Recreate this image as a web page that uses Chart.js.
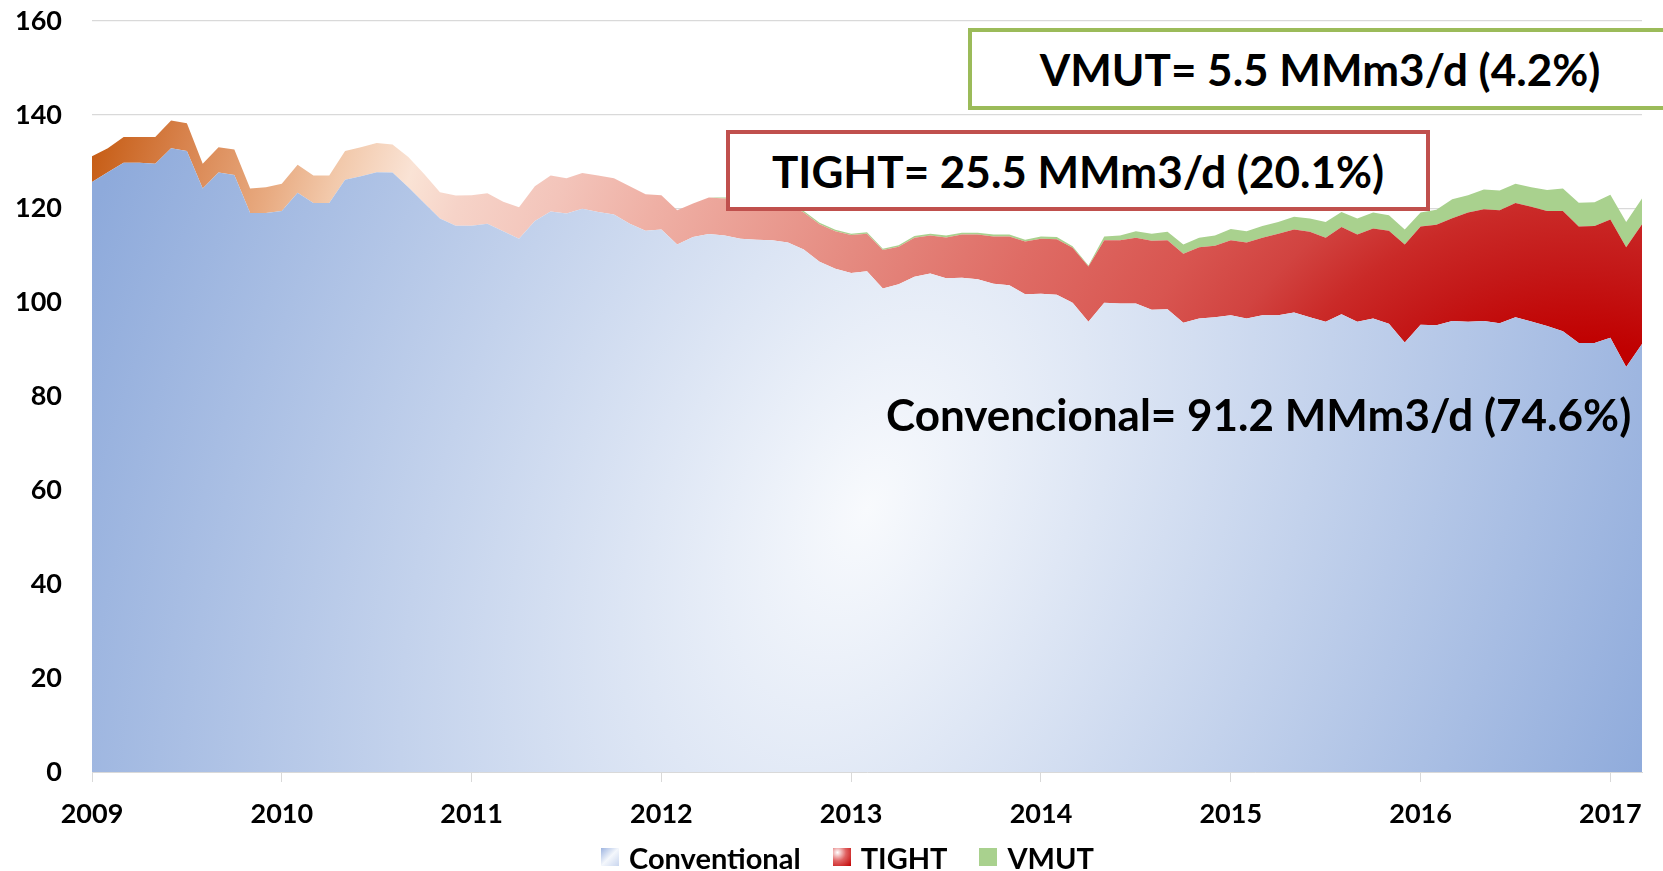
<!DOCTYPE html>
<html>
<head>
<meta charset="utf-8">
<script src="https://cdn.jsdelivr.net/npm/chart.js@4.4.1/dist/chart.umd.min.js"></script>
<style>
    body { margin: 0; background: #fff; }
    #wrap { position: relative; width: 1663px; height: 871px; overflow: hidden; }
    .note { position: absolute; font: bold 44px Lato, sans-serif; color: #000; white-space: nowrap; line-height: 1; }
    .boxed { background: #fff; box-sizing: border-box; display: flex; align-items: center; justify-content: center; }
    #vmutBox { left: 968px; top: 28px; width: 704px; height: 82px; border: 4.5px solid #9bbb59; }
    #tightBox { left: 726px; top: 130px; width: 704px; height: 81px; border: 4.5px solid #c0504d; }
    #convNote { left: 886px; top: 392px; }
    #legend { position: absolute; left: 601px; top: 842px; height: 30px; display: flex; align-items: center;
              font: bold 29px Lato, sans-serif; color: #000; white-space: nowrap; }
    #legend .item { display: flex; align-items: center; margin-right: 32px; }
    #legend .icon { width: 18px; height: 18px; margin-right: 10px; }
</style>
</head>
<body>
<div id="wrap">
    <canvas id="gasChart"></canvas>
    <div class="note boxed" id="vmutBox">VMUT= 5.5 MMm3/d (4.2%)</div>
    <div class="note boxed" id="tightBox">TIGHT= 25.5 MMm3/d (20.1%)</div>
    <div class="note" id="convNote">Convencional= 91.2 MMm3/d (74.6%)</div>
    <div id="legend"></div>
</div>
<script>
// -------------------------------------------------------------------
// data (MMm3/d, monthly, 2009-01 .. 2017-03)
// -------------------------------------------------------------------
const years = ['2009', '2010', '2011', '2012', '2013', '2014', '2015', '2016', '2017'];
const seriesNames = ['Conventional', 'TIGHT', 'VMUT'];

const conventional = [
    125.7, 127.8, 129.8, 129.8, 129.6, 132.9, 132.3, 124.3, 127.7, 127.2, 119.1, 119.1,
    119.5, 123.4, 121.2, 121.2, 126.2, 126.9, 127.8, 127.7, 124.6, 121.2, 117.9, 116.4,
    116.4, 116.8, 115.2, 113.6, 117.4, 119.4, 119.0, 120.0, 119.3, 118.8, 116.8, 115.3,
    115.6, 112.4, 114.0, 114.6, 114.3, 113.6, 113.4, 113.3, 112.8, 111.3, 108.7, 107.2,
    106.3, 106.7, 103.0, 103.9, 105.5, 106.2, 105.2, 105.3, 105.0, 104.0, 103.7, 101.8,
    101.9, 101.7, 100.0, 95.9, 100.0, 99.8, 99.8, 98.5, 98.6, 95.7, 96.6, 96.9,
    97.3, 96.6, 97.3, 97.3, 97.9, 96.9, 95.9, 97.5, 95.9, 96.6, 95.5, 91.5,
    95.3, 95.2, 96.1, 95.9, 96.1, 95.6, 96.9, 96.0, 95.0, 93.9, 91.4, 91.4,
    92.5, 86.3, 91.2
];

const tight = [
    5.5, 5.1, 5.5, 5.5, 5.7, 5.9, 5.9, 5.3, 5.4, 5.4, 5.2, 5.5,
    5.8, 6.0, 5.9, 5.9, 6.1, 6.2, 6.2, 6.0, 6.4, 6.2, 5.6, 6.4,
    6.5, 6.5, 6.3, 6.7, 7.4, 7.7, 7.5, 7.6, 7.8, 7.7, 8.0, 7.8,
    7.3, 7.3, 7.1, 7.8, 7.9, 8.5, 8.6, 8.5, 8.3, 7.9, 8.0, 8.0,
    8.1, 8.0, 8.2, 8.0, 8.3, 8.1, 8.7, 9.2, 9.5, 10.1, 10.4, 11.2,
    11.7, 11.8, 11.7, 11.8, 13.3, 13.5, 14.0, 14.7, 14.7, 14.7, 15.2, 15.2,
    16.0, 16.2, 16.5, 17.4, 17.7, 18.2, 17.9, 18.6, 18.6, 19.2, 19.8, 20.9,
    20.9, 21.4, 21.9, 23.3, 23.8, 24.1, 24.3, 24.4, 24.5, 25.6, 24.8, 24.9,
    25.2, 25.5, 25.5
];

const vmut = [
    0, 0, 0, 0, 0, 0, 0, 0, 0, 0, 0, 0,
    0, 0, 0, 0, 0, 0, 0, 0, 0, 0, 0, 0,
    0, 0, 0, 0, 0, 0, 0, 0, 0, 0, 0, 0,
    0, 0, 0, 0, 0.2, 0.2, 0.2, 0.2, 0.2, 0.3, 0.3, 0.3,
    0.3, 0.3, 0.3, 0.3, 0.4, 0.4, 0.4, 0.4, 0.4, 0.4, 0.4, 0.4,
    0.5, 0.5, 0.3, 0.2, 0.8, 1.0, 1.4, 1.5, 1.8, 2.0, 2.0, 2.2,
    2.4, 2.4, 2.5, 2.5, 2.7, 2.8, 3.4, 3.2, 3.4, 3.4, 3.3, 3.2,
    3.0, 3.2, 4.0, 3.7, 4.2, 4.2, 4.1, 4.2, 4.5, 4.8, 5.1, 5.1,
    5.3, 5.4, 5.5
];

// month categories; only January gets a year tick label
const months = [];
years.forEach(y => {
    for (let m = 1; m <= 12; m++) months.push(y + '-' + String(m).padStart(2, '0'));
});
months.length = conventional.length;

// -------------------------------------------------------------------
// fills
// -------------------------------------------------------------------
let convCache = null;
function convFill(context) {
    const chart = context.chart;
    const a = chart.chartArea;
    if (!a) return '#c5d3ee';
    const key = a.left + ',' + a.top + ',' + a.width + ',' + a.height;
    if (convCache && convCache.key === key) return convCache.pattern;

    // tilted elliptical light spot in the middle, blue towards the corners
    const off = document.createElement('canvas');
    off.width = chart.width;
    off.height = chart.height;
    const c = off.getContext('2d');
    c.translate(a.left + a.width * 0.5, a.top + a.height * 0.65);
    c.rotate(23 * Math.PI / 180);
    c.scale(1, 1.66);
    const g = c.createRadialGradient(0, 0, 0, 0, 0, a.width * 0.535);
    g.addColorStop(0, '#f8fafd');
    g.addColorStop(1, '#8eaadb');
    c.fillStyle = g;
    c.fillRect(-6000, -6000, 12000, 12000);

    convCache = { key, pattern: chart.ctx.createPattern(off, 'no-repeat') };
    return convCache.pattern;
}

function tightFill(context) {
    const chart = context.chart;
    const a = chart.chartArea;
    if (!a) return '#e06666';
    const g = chart.ctx.createRadialGradient(
        a.left + a.width * 0.96, a.top + a.height * 0.72, 0,
        a.left + a.width * 0.96, a.top + a.height * 0.72, a.width);
    const stops = [
        [0, '#c00000'], [0.14, '#c00000'], [0.19, '#c41818'], [0.23, '#ca2a28'],
        [0.27, '#d14340'], [0.32, '#d85550'], [0.41, '#df6c65'], [0.51, '#e58a80'],
        [0.64, '#efb0a5'], [0.70, '#f3c4ba'], [0.76, '#f6d3c8'], [0.795, '#fae3d5'],
        [0.84, '#f2c9ab'], [0.88, '#e8aa80'], [0.94, '#d8834d'], [1, '#c55a11']
    ];
    stops.forEach(s => g.addColorStop(s[0], s[1]));
    return g;
}

// -------------------------------------------------------------------
// legend (html, below the axis)
// -------------------------------------------------------------------
const legendIcons = [
    'linear-gradient(135deg, #9db4e0, #f4f7fc 50%, #c9d6ef)',
    'radial-gradient(circle at 25% 25%, #ffffff, #e06262 45%, #c00000)',
    '#a9d18e'
];
const legendEl = document.getElementById('legend');
seriesNames.forEach((name, i) => {
    const item = document.createElement('span');
    item.className = 'item';
    const icon = document.createElement('span');
    icon.className = 'icon';
    icon.style.background = legendIcons[i];
    item.appendChild(icon);
    item.appendChild(document.createTextNode(name));
    legendEl.appendChild(item);
});

// -------------------------------------------------------------------
// chart
// -------------------------------------------------------------------
Chart.defaults.font.family = 'Lato';
const tickFont = { family: 'Lato', size: 27, weight: 'bold' };

new Chart(document.getElementById('gasChart'), {
    type: 'line',
    data: {
        labels: months,
        datasets: [
            { label: seriesNames[0], data: conventional, backgroundColor: convFill, fill: 'origin' },
            { label: seriesNames[1], data: tight, backgroundColor: tightFill, fill: '-1' },
            { label: seriesNames[2], data: vmut, backgroundColor: '#a9d18e', fill: '-1' }
        ]
    },
    options: {
        responsive: true,
        maintainAspectRatio: false,
        animation: false,
        layout: { padding: { top: 21, right: 21, left: 0, bottom: 0 } },
        elements: {
            point: { radius: 0, hoverRadius: 0 },
            line: { tension: 0, borderWidth: 0, borderColor: 'transparent' }
        },
        plugins: {
            tooltip: { enabled: false },
            legend: { display: false }
        },
        scales: {
            x: {
                grid: {
                    drawOnChartArea: false,
                    tickLength: 10,
                    color: c => (c.index % 12 === 0 ? '#d9d9d9' : 'transparent')
                },
                border: { display: true, color: '#d9d9d9' },
                ticks: {
                    autoSkip: false,
                    maxRotation: 0,
                    padding: 16,
                    color: '#000',
                    font: tickFont,
                    callback: (value, index) => (index % 12 === 0 ? years[index / 12] : '')
                },
                afterFit: scale => {
                    scale.height = 99;
                    scale.paddingLeft = 0;
                    scale.paddingRight = 0;
                }
            },
            y: {
                stacked: true,
                min: 0,
                max: 160,
                grid: { color: '#d9d9d9', lineWidth: 1.3, drawTicks: false },
                border: { display: false },
                ticks: { stepSize: 20, padding: 30, color: '#000', font: tickFont },
                afterFit: scale => {
                    scale.width = 92;
                    scale.paddingTop = 0;
                    scale.paddingBottom = 0;
                }
            }
        }
    }
});
</script>
</body>
</html>
